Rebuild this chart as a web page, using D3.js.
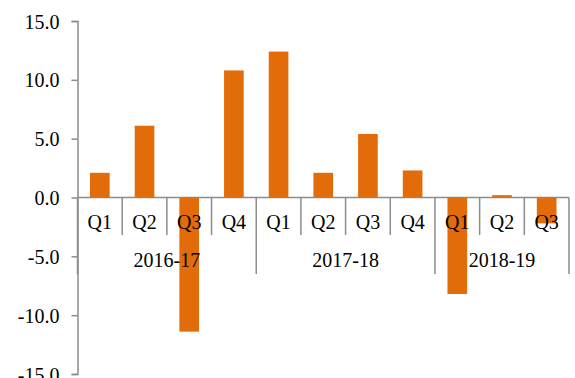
<!DOCTYPE html>
<html>
<head>
<meta charset="utf-8">
<script src="https://cdn.jsdelivr.net/npm/d3@7"></script>
<style>
  body { margin: 0; background: #fff; }
  text { font-family: "Liberation Serif", "Times New Roman", serif; font-size: 20px; fill: #000; }
</style>
</head>
<body>
<svg id="chart" width="575" height="378"></svg>
<script>
'use strict';

// chart data
const quarters = ['Q1', 'Q2', 'Q3', 'Q4', 'Q1', 'Q2', 'Q3', 'Q4', 'Q1', 'Q2', 'Q3'];
const years = ['2016-17', '2016-17', '2016-17', '2016-17',
               '2017-18', '2017-18', '2017-18', '2017-18',
               '2018-19', '2018-19', '2018-19'];
const values = [2.1, 6.1, -11.4, 10.8, 12.4, 2.1, 5.4, 2.3, -8.2, 0.2, -2.2];
const yTicks = [-15, -10, -5, 0, 5, 10, 15];
const yearGroups = ['2016-17', '2017-18', '2018-19'];

const svg = d3.select('#chart');
const plotLeft = 77.5, plotRight = 569, plotTop = 21, plotBottom = 374;
const axisColor = '#8c8c8c';

const x = d3.scaleBand()
  .domain(d3.range(values.length))
  .range([plotLeft, plotRight])
  .padding(0);

const y = d3.scaleLinear()
  .domain([-15, 15])
  .range([plotBottom, plotTop]);

const bw = x.bandwidth();
const barW = bw * 0.44;

// y axis (plain hyphen for negatives, like the original)
const yAxis = d3.axisLeft(y)
  .tickValues(yTicks)
  .tickSize(6)
  .tickPadding(12)
  .tickFormat(d => d.toFixed(1));

const yg = svg.append('g')
  .attr('transform', `translate(${plotLeft},0)`)
  .call(yAxis);
yg.select('.domain').attr('stroke', axisColor).attr('stroke-width', 1.5);
yg.selectAll('.tick line').attr('stroke', axisColor).attr('stroke-width', 1.5);
yg.selectAll('.tick text')
  .attr('fill', '#000')
  .style('font-family', '"Liberation Serif", "Times New Roman", serif')
  .style('font-size', '20px')
  .attr('dy', '0.35em');

// category axis at zero
const zeroY = y(0);
svg.append('line')
  .attr('x1', plotLeft).attr('x2', plotRight)
  .attr('y1', zeroY).attr('y2', zeroY)
  .attr('stroke', axisColor).attr('stroke-width', 1.5);

// boundaries between quarters, longer ones between years
const bounds = d3.range(values.length + 1);
svg.append('g').selectAll('line')
  .data(bounds)
  .join('line')
    .attr('x1', i => i < values.length ? x(i) : plotRight)
    .attr('x2', i => i < values.length ? x(i) : plotRight)
    .attr('y1', zeroY)
    .attr('y2', i => (i === 0 || i === values.length || years[i] !== years[i - 1]) ? 274 : 235)
    .attr('stroke', axisColor)
    .attr('stroke-width', 1.5);

// bars
svg.append('g').selectAll('rect')
  .data(values)
  .join('rect')
    .attr('x', (d, i) => x(i) + (bw - barW) / 2)
    .attr('y', d => y(Math.max(0, d)))
    .attr('width', barW)
    .attr('height', d => Math.abs(y(d) - y(0)))
    .attr('fill', '#e36c0a');

// quarter labels
svg.append('g').selectAll('text')
  .data(quarters)
  .join('text')
    .attr('x', (d, i) => x(i) + bw / 2)
    .attr('y', 229)
    .attr('text-anchor', 'middle')
    .text(d => d);

// year labels
svg.append('g').selectAll('text')
  .data(yearGroups)
  .join('text')
    .attr('x', yr => {
      const idx = years.map((v, i) => v === yr ? i : -1).filter(i => i >= 0);
      const x0 = x(idx[0]);
      const x1 = idx[idx.length - 1] === values.length - 1 ? plotRight : x(idx[idx.length - 1]) + bw;
      return (x0 + x1) / 2;
    })
    .attr('y', 267)
    .attr('text-anchor', 'middle')
    .text(d => d);
</script>
</body>
</html>
